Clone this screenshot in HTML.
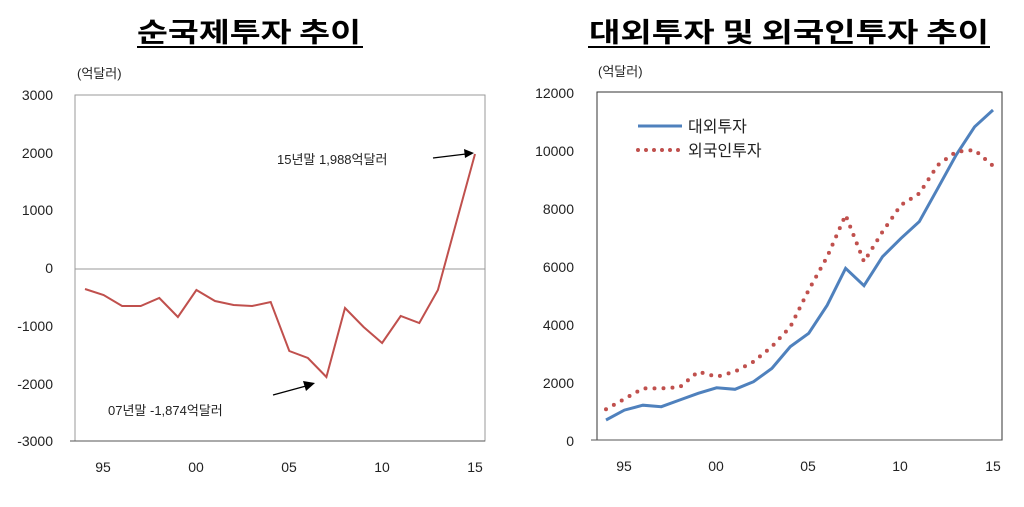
<!DOCTYPE html>
<html><head><meta charset="utf-8"><style>
html,body{margin:0;padding:0;background:#fff;}
svg{display:block;font-family:"Liberation Sans","Noto Sans CJK KR",sans-serif;}
</style></head><body>
<svg width="1024" height="507" viewBox="0 0 1024 507" xmlns="http://www.w3.org/2000/svg">
<rect width="1024" height="507" fill="#fff"/>
<!-- titles -->
<text x="249" y="42" font-size="27" font-weight="bold" text-anchor="middle" textLength="224" lengthAdjust="spacingAndGlyphs" font-family="'Noto Sans CJK KR',sans-serif">순국제투자 추이</text>
<rect x="137" y="46" width="226" height="2" fill="#000"/>
<text x="789" y="42" font-size="27" font-weight="bold" text-anchor="middle" textLength="400" lengthAdjust="spacingAndGlyphs" font-family="'Noto Sans CJK KR',sans-serif">대외투자 및 외국인투자 추이</text>
<rect x="588" y="46" width="402" height="2" fill="#000"/>

<!-- LEFT CHART -->
<g font-size="13" fill="#222">
<text x="77" y="78">(억달러)</text>
<g text-anchor="end" font-size="14">
<text x="53" y="100">3000</text><text x="53" y="158">2000</text><text x="53" y="215">1000</text>
<text x="53" y="273">0</text><text x="53" y="331">-1000</text><text x="53" y="389">-2000</text><text x="53" y="446">-3000</text>
</g>
<g text-anchor="middle" font-size="14">
<text x="103" y="472">95</text><text x="196" y="472">00</text><text x="289" y="472">05</text><text x="382" y="472">10</text><text x="475" y="472">15</text>
</g>
</g>
<rect x="75" y="95" width="410" height="346" fill="none" stroke="#999" stroke-width="1"/>
<line x1="70" y1="441" x2="485" y2="441" stroke="#555"/>
<line x1="75" y1="269" x2="485" y2="269" stroke="#999"/>
<polyline fill="none" stroke="#c0504d" stroke-width="2" points="85,289 103.6,295 122.1,306 140.7,306 159.3,298 177.9,317 196.4,290 215,301 233.6,305 252.1,306 270.7,302 289.3,351 307.9,358 326.4,377 345,308 363.6,327 382.1,343 400.7,316 419.3,323 437.9,290 456.4,222 475,154"/>
<text x="277" y="164" font-size="13" fill="#222">15년말 1,988억달러</text>
<line x1="433" y1="158" x2="466" y2="154" stroke="#000" stroke-width="1.3"/>
<polygon points="474,153 464,149 465,158" fill="#000"/>
<text x="108" y="415" font-size="13" fill="#222">07년말 -1,874억달러</text>
<line x1="273" y1="395" x2="306" y2="386" stroke="#000" stroke-width="1.3"/>
<polygon points="315,383 303,381 306,391" fill="#000"/>

<!-- RIGHT CHART -->
<g font-size="13" fill="#222">
<text x="598" y="76">(억달러)</text>
<g text-anchor="end" font-size="14">
<text x="574" y="98">12000</text><text x="574" y="156">10000</text><text x="574" y="214">8000</text>
<text x="574" y="272">6000</text><text x="574" y="330">4000</text><text x="574" y="388">2000</text><text x="574" y="446">0</text>
</g>
<g text-anchor="middle" font-size="14">
<text x="624" y="471">95</text><text x="716" y="471">00</text><text x="808" y="471">05</text><text x="900" y="471">10</text><text x="993" y="471">15</text>
</g>
</g>
<rect x="597" y="92" width="405" height="348" fill="none" stroke="#333" stroke-width="1"/>
<line x1="591" y1="440" x2="1002" y2="440" stroke="#555"/>
<polyline fill="none" stroke="#4f81bd" stroke-width="3" points="606,420 624.4,410.1 642.9,405.2 661.3,406.7 679.7,400 698.2,393.3 716.6,387.8 735,389.3 753.5,381.7 771.9,368.4 790.3,346.6 808.7,333.3 827.2,305.2 845.6,268.3 864,285.7 882.5,256.7 900.9,238.4 919.3,221.6 937.8,188.3 956.2,154.9 974.6,126.8 993,110"/>
<polyline fill="none" stroke="#c0504d" stroke-width="4" stroke-dasharray="0 9" stroke-linecap="round" points="606,409.3 624.4,399 642.9,388.4 661.3,388.4 679.7,387.2 698.2,371.6 716.6,376.8 735,371.6 753.5,361.7 771.9,346.6 790.3,326.9 808.7,290 827.2,256.7 845.6,214.9 864,261.7 882.5,231.8 900.9,205.1 919.3,193.5 937.8,165.1 956.2,151.7 974.6,150 993,165.9"/>
<line x1="638" y1="126" x2="682" y2="126" stroke="#4f81bd" stroke-width="3"/>
<line x1="638" y1="150" x2="682" y2="150" stroke="#c0504d" stroke-width="4" stroke-dasharray="0 8" stroke-linecap="round"/>
<text x="688" y="132" font-size="16" fill="#222">대외투자</text>
<text x="688" y="156" font-size="16" fill="#222">외국인투자</text>
</svg>
</body></html>
